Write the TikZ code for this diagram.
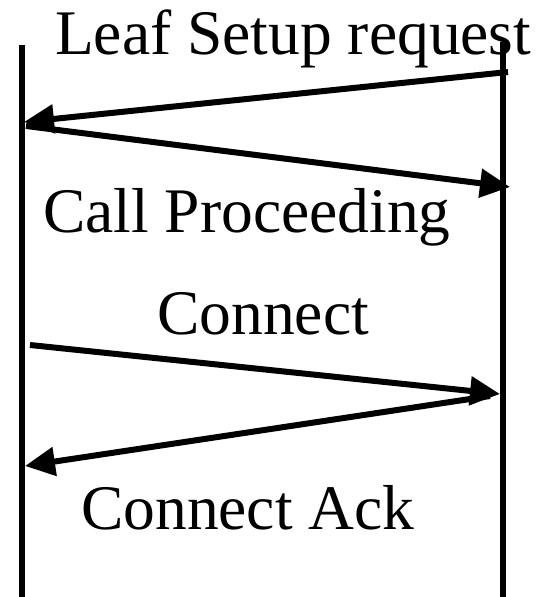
\documentclass[tikz,border=0pt]{standalone}
\usepackage{fontspec}
\setmainfont{Liberation Serif}
\usetikzlibrary{arrows.meta}
\begin{document}
\begin{tikzpicture}[x=1pt,y=-1pt,
  lifeline/.style={line width=6pt},
  msg/.style={line width=6pt,-{Triangle[length=30pt,width=28pt]}},
  lbl/.style={anchor=base west,inner sep=0pt,font=\fontsize{63.5}{70}\selectfont}]
\useasboundingbox (0,0) rectangle (544,597);
% lifelines
\coordinate (Ltop) at (22,45);
\coordinate (Lbot) at (22,597);
\coordinate (Rtop) at (503,42);
\coordinate (Rbot) at (503,597);
\draw[lifeline] (Ltop) -- (Lbot);
\draw[lifeline] (Rtop) -- (Rbot);
% message end points
\coordinate (r1) at (508,72);
\coordinate (l1) at (24,122);
\coordinate (l2) at (26,126);
\coordinate (r2) at (510,187);
\coordinate (l3) at (30,345);
\coordinate (r3) at (500,394);
\coordinate (r4) at (490,396);
\coordinate (l4) at (25,466);
\draw[msg] (r1) -- (l1);
\draw[msg] (l2) -- (r2);
\draw[msg] (l3) -- (r3);
\draw[msg] (r4) -- (l4);
% labels
\node[lbl] (t1) at (55,54) {Leaf Setup request};
\node[lbl] (t2) at (43,232) {Call Proceeding};
\node[lbl] (t3) at (157,334) {Connect};
\node[lbl] (t4) at (81,529) {Connect Ack};
\end{tikzpicture}
\end{document}
